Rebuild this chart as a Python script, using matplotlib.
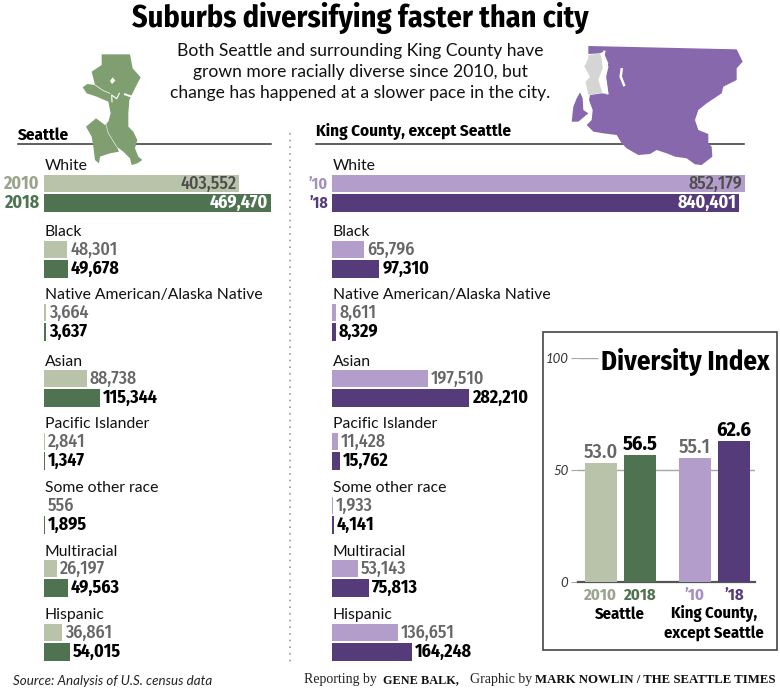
import matplotlib
matplotlib.use("Agg")
import matplotlib.pyplot as plt
from matplotlib import font_manager as fm
from matplotlib.patches import Polygon, Rectangle

names = {f.name for f in fm.fontManager.ttflist}
NARROW = "Fira Sans Condensed" if "Fira Sans Condensed" in names else "Lato"
BODY = "Lato"
SERIF = "Liberation Serif"

categories = ["White", "Black", "Native American/Alaska Native", "Asian",
              "Pacific Islander", "Some other race", "Multiracial", "Hispanic"]
seattle_2010 = [403552, 48301, 3664, 88738, 2841, 556, 26197, 36861]
seattle_2018 = [469470, 49678, 3637, 115344, 1347, 1895, 49563, 54015]
county_2010 = [852179, 65796, 8611, 197510, 11428, 1933, 53143, 136651]
county_2018 = [840401, 97310, 8329, 282210, 15762, 4141, 75813, 164248]
index_labels = ["2010", "2018", "’10", "’18"]
index_values = [53.0, 56.5, 55.1, 62.6]

LG, DG, LP, DP = "#b9c3aa", "#4f7351", "#b39dca", "#553b7a"
GRID = "#a8a8a0"
row_top = [175, 241, 304, 370, 433, 497, 560, 624]

fig = plt.figure(figsize=(7.8, 6.89), dpi=100, facecolor="white")
ov = fig.add_axes([0, 0, 1, 1], zorder=1)
ov.set_xlim(0, 780); ov.set_ylim(689, 0); ov.axis("off")


def T(x, y, s, px, ha="left", va="center", w="normal", c="#111111", fam=NARROW, st="normal", ax=ov, z=6):
    ax.text(x, y, s, fontsize=px * 0.72, ha=ha, va=va, fontweight=w, color=c,
            family=fam, style=st, zorder=z)


# header
T(360, 18, "Suburbs diversifying faster than city", 30.2, ha="center", w="bold", c="black")
for y, s in zip((51, 72, 93), ("Both Seattle and surrounding King County have",
                               "grown more racially diverse since 2010, but",
                               "change has happened at a slower pace in the city.")):
    T(360, y, s, 17.5, ha="center", fam=BODY)

# rules
ov.plot([18, 271], [144, 144], color="#333333", lw=1.1, zorder=2)
ov.plot([316, 744], [144, 144], color="#333333", lw=1.1, zorder=2)
ov.plot([290, 290], [133, 662], color="#999999", lw=1.2, ls=(0, (1, 3)), zorder=2)
T(18, 135, "Seattle", 17, w="bold", c="black")
T(316, 131, "King County, except Seattle", 17, w="bold", c="black")

# Seattle map
sea = [(305,163),(390,163),(398,205),(422,232),(410,255),(395,285),(388,300),(385,340),(385,380),
       (400,395),(412,420),(405,445),(415,470),(427,480),(412,490),(395,495),(390,475),(370,455),
       (350,440),(357,455),(330,460),(300,470),(297,490),(285,480),(280,440),(275,410),(258,380),
       (288,355),(315,375),(325,365),(332,340),(325,305),(290,290),(260,280),(248,262),(262,252),
       (285,255),(275,215),(305,195)]
ov.add_patch(Polygon([(x/3, y/3) for x, y in sea], fc="#7f9f70", ec="none", zorder=3))
for line, lw in (([(285,255),(310,272),(330,280)], 0.5),
                 ([(336,305),(335,285),(350,296),(358,280)], 0.8),
                 ([(375,283),(395,290)], 1.4),
                 ([(316,365),(325,400),(350,440)], 0.4)):
    ov.plot(*zip(*[(x/3, y/3) for x, y in line]), color="white", lw=lw, zorder=4)
ov.add_patch(Polygon([(x/3, y/3) for x, y in [(338,232),(346,242),(336,252),(330,243)]], fc="white", ec="none", zorder=4))


# King County map
def kc(pts):
    return [(520 + x/3, 30 + y/3) for x, y in pts]


king = [(205,48),(650,58),(668,95),(650,115),(650,150),(610,170),(605,190),(560,220),(535,240),
        (525,270),(535,300),(565,312),(565,340),(575,350),(577,380),(545,405),(525,403),(500,385),
        (465,380),(440,370),(410,360),(390,372),(355,375),(320,355),(305,340),(290,315),(250,310),
        (220,305),(200,285),(215,270),(218,240),(207,210),(210,195),(245,190),(265,192),(255,130),
        (265,100),(250,65),(240,70),(205,72)]
ov.add_patch(Polygon(kc(king), fc="#8768ad", ec="none", zorder=3))
ov.add_patch(Polygon(kc([(205,75),(240,70),(245,85),(248,115),(235,150),(247,188),(205,195),(197,155),
                         (210,140),(193,110),(205,85)]), fc="#d5d5d3", ec="none", zorder=4))
ov.add_patch(Polygon(kc([(180,187),(188,205),(190,240),(205,250),(175,275),(155,275),(160,230),(170,205)]),
                     fc="#8768ad", ec="none", zorder=3))
ov.plot(*zip(*kc([(305,118),(302,140),(312,165)])), color="white", lw=1.8, zorder=4)
ov.plot(*zip(*kc([(253,65),(248,85),(262,110),(255,140),(262,190)])), color="white", lw=1.6, zorder=5)


def panel(left, right, maxv, v10, v18, lc, dc):
    ax = fig.add_axes([left/780, 0, (right-left)/780, 1], zorder=2)
    ax.patch.set_alpha(0)
    ax.set_xlim(0, maxv); ax.set_ylim(689, 0); ax.axis("off")
    ax.barh([t + 8.5 for t in row_top], v10, height=17.5, color=lc, zorder=3)
    ax.barh([t + 28 for t in row_top], v18, height=18, color=dc, zorder=3)
    px = maxv / (right - left)
    NUM = dict(fontsize=18*.72, va="center", family=NARROW, zorder=6)
    for i, (c, a, b, t) in enumerate(zip(categories, v10, v18, row_top)):
        ax.text(1*px, t - 8.5, c, fontsize=15.8*.72, va="center", family=BODY, color="#111111", zorder=6)
        if i == 0:
            ax.text(a - 3*px, t + 9, f"{a:,}", ha="right", fontweight="medium", color="#4d4d4d", **NUM)
            ax.text(b - 3*px, t + 28, f"{b:,}", ha="right", fontweight="bold", color="white", **NUM)
        else:
            ax.text(a + 3*px, t + 9, f"{a:,}", fontweight="medium", color="#666666", **NUM)
            ax.text(b + 3*px, t + 28, f"{b:,}", fontweight="bold", color="black", **NUM)


panel(44, 271, 469470, seattle_2010, seattle_2018, LG, DG)
panel(332, 745, 852179, county_2010, county_2018, LP, DP)
T(39, 184, "2010", 18, ha="right", w="bold", c="#9aa38c")
T(39, 203, "2018", 18, ha="right", w="bold", c="#4f7351")
T(328, 184, "’10", 16, ha="right", w="bold", c="#a48fc0")
T(328, 203, "’18", 16, ha="right", w="bold", c="#553b7a")

# Diversity inset
ov.add_patch(Rectangle((543, 332), 234, 318, fc="white", ec="#444444", lw=1.2, zorder=4))
d = fig.add_axes([578/780, (689-581.7)/689, 177/780, 224/689], zorder=3)
d.patch.set_alpha(0)
xs = [0, 1, 2.37, 3.37]
d.set_xlim(-0.58, 3.9); d.set_ylim(0, 100)
d.axhline(50, color=GRID, lw=1, zorder=1)
d.bar(xs, index_values, width=0.81, color=[LG, DG, LP, DP], zorder=3)
for s in ("top", "left", "right"):
    d.spines[s].set_visible(False)
d.spines["bottom"].set_color("#555555"); d.spines["bottom"].set_linewidth(1.6)
d.set_yticks([0, 50, 100]); d.set_yticklabels(["0", "50", "100"], family=BODY, style="italic", fontsize=9.5, color="#333333")
d.tick_params(axis="y", length=5, width=0.8, color=GRID, pad=2)
d.set_xticks(xs); d.set_xticklabels(index_labels, family=NARROW, fontweight="bold", fontsize=12)
d.tick_params(axis="x", length=0, pad=4)
for lab, c in zip(d.get_xticklabels(), ("#9aa38c", DG, "#a48fc0", DP)):
    lab.set_color(c)
d.hlines(100, -0.58, -0.08, color=GRID, lw=1)
for i, (x, v) in enumerate(zip(xs, index_values)):
    d.text(x, v + 0.6, f"{v:.1f}", ha="center", va="bottom", family=NARROW, fontsize=14.5,
           fontweight="medium" if i % 2 == 0 else "bold", color="#666666" if i % 2 == 0 else "black")
T(601, 362, "Diversity Index", 27, w="bold", c="black")
T(620, 614, "Seattle", 16.5, ha="center", w="bold", c="black")
T(714, 614, "King County,", 16.5, ha="center", w="bold", c="black")
T(714, 633, "except Seattle", 16.5, ha="center", w="bold", c="black")

# footer
T(13, 681, "Source: Analysis of U.S. census data", 13.4, st="italic", fam=BODY, c="#222222")
ov.text(304, 680, "Reporting by", fontsize=10, family=SERIF, va="center", color="#222222")
ov.text(383, 680, "GENE BALK,", fontsize=8.8, family=SERIF, fontweight="bold", va="center", color="#111111")
ov.text(470, 680, "Graphic by", fontsize=10, family=SERIF, va="center", color="#222222")
ov.text(535, 680, "MARK NOWLIN / THE SEATTLE TIMES", fontsize=9.2, family=SERIF, fontweight="bold", va="center", color="#111111")

fig.savefig("out.png", dpi=100)
